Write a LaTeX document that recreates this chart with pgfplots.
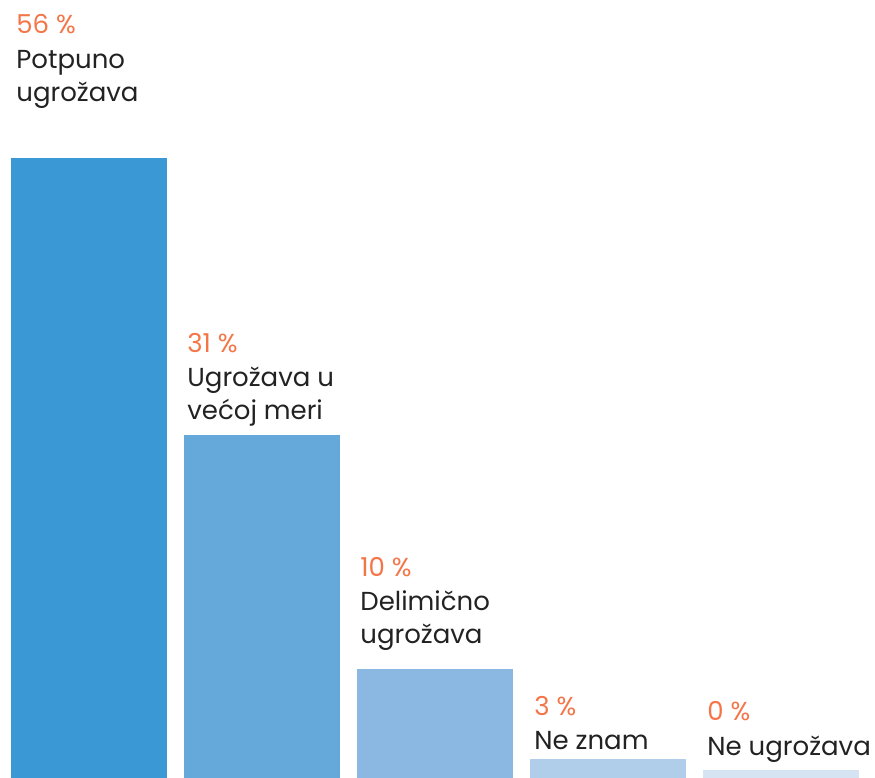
\documentclass[border=0pt]{standalone}
\usepackage{fontspec}
\setmainfont{Poppins}
\usepackage{pgfplots}
\pgfplotsset{compat=1.18}
\definecolor{barA}{HTML}{3A99D4}
\definecolor{barB}{HTML}{65A8DA}
\definecolor{barC}{HTML}{8BB8E3}
\definecolor{barD}{HTML}{B0CDE9}
\definecolor{barE}{HTML}{D5E3F3}
\definecolor{pct}{HTML}{F47547}
\definecolor{txt}{HTML}{222222}

% label in picture pixels: x, baseline y (from top)
\newcommand{\lbl}[4]{\node[anchor=base west, inner sep=0pt, font=\fontsize{13}{16}\selectfont, text=#4]
  at (rel axis cs:{#1/875},{1-#2/778}) {#3};}

\begin{document}
\begin{tikzpicture}
\begin{axis}[
  scale only axis,
  width=437.5pt, height=389pt,
  xmin=0, xmax=875,
  ymin=0, ymax=70.28,
  hide axis,
  ybar, bar width=78pt, bar shift=0pt,
  clip=false,
]
\addplot[fill=barA, draw=none] coordinates {(89,56)};
\addplot[fill=barB, draw=none] coordinates {(262,31)};
\addplot[fill=barC, draw=none] coordinates {(435,9.8)};
\addplot[fill=barD, draw=none] coordinates {(608,1.7)};
\addplot[fill=barE, draw=none] coordinates {(781,0.72)};

\lbl{16}{34}{56 \%}{pct}
\lbl{16}{69}{Potpuno}{txt}
\lbl{16}{102}{ugrožava}{txt}

\lbl{187}{353}{31 \%}{pct}
\lbl{187}{387}{Ugrožava u}{txt}
\lbl{187}{420}{većoj meri}{txt}

\lbl{360}{577}{10 \%}{pct}
\lbl{360}{611}{Delimično}{txt}
\lbl{360}{644}{ugrožava}{txt}

\lbl{534}{716}{3 \%}{pct}
\lbl{534}{750}{Ne znam}{txt}

\lbl{707}{721}{0 \%}{pct}
\lbl{707}{756}{Ne ugrožava}{txt}
\end{axis}
\pgfresetboundingbox
\path[use as bounding box] (current axis.south west) rectangle (current axis.north east);
\end{tikzpicture}
\end{document}
